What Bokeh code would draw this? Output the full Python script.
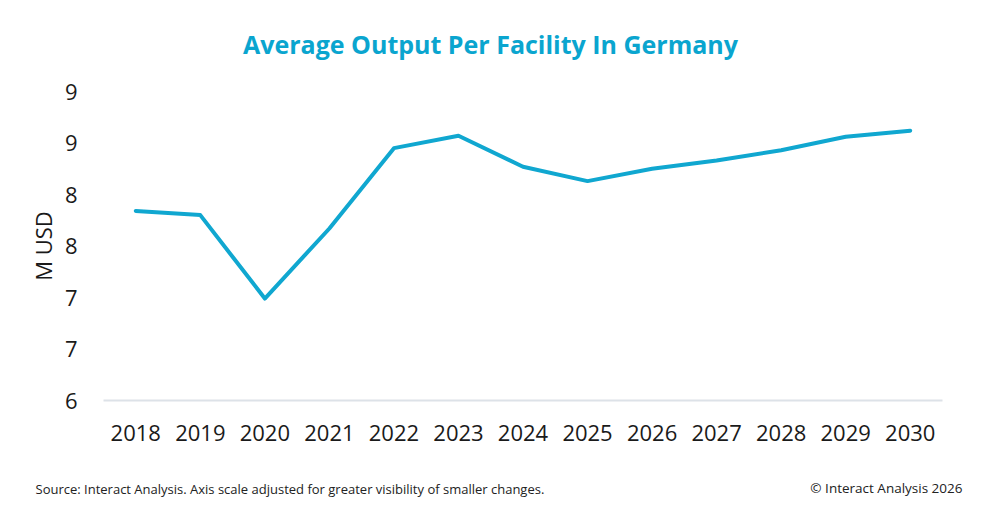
from bokeh.plotting import figure
from bokeh.models import Label, FixedTicker, NumeralTickFormatter, Range1d
from bokeh.embed import file_html
from bokeh.resources import INLINE

# data
years = ["2018", "2019", "2020", "2021", "2022", "2023", "2024",
         "2025", "2026", "2027", "2028", "2029", "2030"]
output_musd = [7.84, 7.80, 6.99, 7.67, 8.45, 8.57, 8.27,
               8.13, 8.25, 8.33, 8.43, 8.56, 8.62]
y_ticks = [6, 6.5, 7, 7.5, 8, 8.5, 9]

title_text = "Average Output Per Facility In Germany"
source_text = "Source: Interact Analysis. Axis scale adjusted for greater visibility of smaller changes."
copyright_text = "\u00a9 Interact Analysis 2026"

FONT = "Open Sans"
BLUE = "#10a7d0"

p = figure(
    x_range=years,
    y_range=Range1d(6, 9),
    width=984,
    height=500,
    output_backend="svg",
    toolbar_location=None,
    min_border_left=103,
    min_border_right=42,
    min_border_top=91,
    min_border_bottom=100,
)
p.outline_line_color = None
p.xgrid.grid_line_color = None
p.ygrid.grid_line_color = None
p.background_fill_color = "white"
p.border_fill_color = "white"

p.line(years, output_musd, line_width=4, color=BLUE,
       line_join="round", line_cap="round")

# x axis
p.xaxis.axis_line_color = "#dde2e8"
p.xaxis.axis_line_width = 2
p.xaxis.major_tick_line_color = None
p.xaxis.minor_tick_line_color = None
p.xaxis.major_label_standoff = 18
p.xaxis.major_label_text_font = FONT
p.xaxis.major_label_text_font_size = "22px"
p.xaxis.major_label_text_color = "#1a1a1a"

# y axis
p.yaxis.ticker = FixedTicker(ticks=y_ticks)
p.yaxis.formatter = NumeralTickFormatter(format="0")
p.yaxis.axis_line_color = None
p.yaxis.major_tick_line_color = None
p.yaxis.minor_tick_line_color = None
p.yaxis.major_label_standoff = 20
p.yaxis.major_label_text_font = FONT
p.yaxis.major_label_text_font_size = "22px"
p.yaxis.major_label_text_color = "#1a1a1a"
p.yaxis.axis_label = "M USD"
p.yaxis.axis_label_text_font = FONT
p.yaxis.axis_label_text_font_size = "22px"
p.yaxis.axis_label_text_font_style = "normal"
p.yaxis.axis_label_text_color = "#1a1a1a"
p.yaxis.axis_label_standoff = 4

# title above, footer texts below
p.add_layout(Label(x=387, y=48, x_units="screen", y_units="screen",
                   text=title_text, text_font=FONT, text_font_size="25px",
                   text_font_style="bold", text_color="#0aa5cf",
                   text_align="center", text_baseline="middle"), "above")
p.add_layout(Label(x=-68, y=-27, x_units="screen", y_units="screen",
                   text=source_text, text_font=FONT, text_font_size="13px",
                   text_color="#222222", text_align="left",
                   text_baseline="middle"), "below")
p.add_layout(Label(x=859, y=-8, x_units="screen", y_units="screen",
                   text=copyright_text, text_font=FONT, text_font_size="13.5px",
                   text_color="#222222", text_align="right",
                   text_baseline="middle"), "below")

open("out.html", "w").write(file_html(p, INLINE))
